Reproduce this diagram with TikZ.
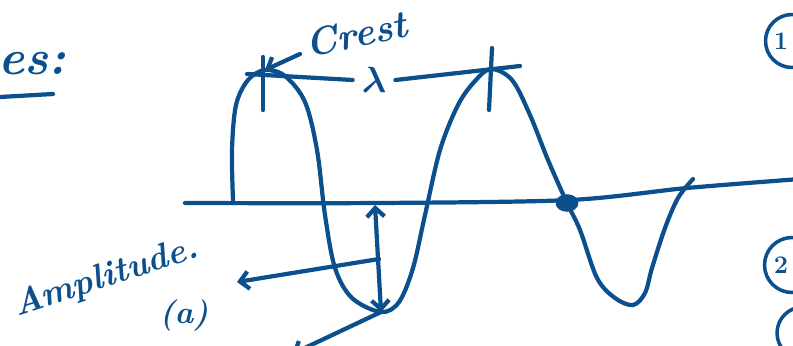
\documentclass[tikz,border=0pt]{standalone}
\usepackage{amsmath}
\usepackage{tikz}
\usetikzlibrary{arrows.meta, positioning}
\definecolor{inkblue}{HTML}{0B4F8C}

\begin{document}
\begin{tikzpicture}[x=0.02cm, y=-0.02cm,
    ink/.style={draw=inkblue, line width=2.4pt, line cap=round, line join=round},
    barb/.style={-{Straight Barb[length=5pt, width=10pt]}},
    hand/.style={text=inkblue, font=\fontsize{22}{24}\selectfont\bfseries\itshape, inner sep=0pt},
    digit/.style={text=inkblue, font=\Large\bfseries, inner sep=0pt}]
  \useasboundingbox (0,0) rectangle (793,345);

  % axis
  \draw[ink] plot[smooth, tension=0.5] coordinates {(185,203) (380,203) (570,200) (687,188) (800,179)};

  % the wave
  \coordinate (crestA) at (265,70);
  \coordinate (crestB) at (491,69);
  \coordinate (troughA) at (381,312);
  \coordinate (zero) at (567,203);
  \draw[ink] plot[smooth, tension=0.55] coordinates {(233,200) (232,150) (236,105) (248,80) (265,70)
    (285,76) (305,102) (317,150) (325,215) (335,268) (352,298) (381,312) (399,302) (413,268)
    (425,215) (440,150) (458,105) (475,81) (491,69) (512,80) (530,115) (548,160) (567,203)
    (580,230) (597,278) (615,298) (633,305) (645,293) (652,268) (665,228) (678,198) (693,179)};
  \fill[inkblue] (zero) ellipse (6.5pt and 5pt);

  % crest marks and wavelength
  \draw[ink] (263,57) -- (263,110);
  \draw[ink] (492,48) -- (489,110);
  \node[hand, inner sep=5pt] (lam) at (374,80) {$\boldsymbol{\lambda}$};
  \draw[ink] (247,74) -- (lam.west);
  \draw[ink] (lam.east) -- (520,66);

  \node[hand, rotate=12] (crestlbl) at (356,34) {Crest};
  \coordinate (crestfoot) at (300,54);
  \draw[ink, barb] (crestfoot) -- (crestA);

  % amplitude
  \coordinate (axfoot) at (375,205);
  \draw[ink, {Straight Barb[length=5pt, width=10pt]}-{Straight Barb[length=5pt, width=10pt]}] (axfoot) -- (troughA);
  \coordinate (ampmid) at (379,259);
  \coordinate (amptip) at (237,282);
  \draw[ink, barb] (ampmid) -- (amptip);
  \node[hand, rotate=18, font=\fontsize{20}{22}\selectfont\bfseries\itshape] (amplbl) at (106,278) {Amplitude.};
  \node[hand, font=\fontsize{18}{20}\selectfont\bfseries\itshape] (alabel) at (184,316) {(a)};
  \coordinate (lowtip) at (292,354);
  \draw[ink, barb] (troughA) -- (lowtip);

  % heading and side numbers
  \node[hand, font=\fontsize{28}{30}\selectfont\bfseries\itshape] (heading) at (32,64) {es:};
  \draw[ink] (0,97) -- (53,94);
  \node[digit] (one) at (781,41) {1};
  \draw[ink, line width=2pt] ([xshift=11*0.02cm]one.center) circle (0.53cm);
  \node[digit] (two) at (781,265) {2};
  \draw[ink, line width=2pt] ([xshift=11*0.02cm]two.center) circle (0.55cm);
  \coordinate (three) at (803,333);
  \draw[ink, line width=2pt] (three) circle (0.52cm);
\end{tikzpicture}
\end{document}
